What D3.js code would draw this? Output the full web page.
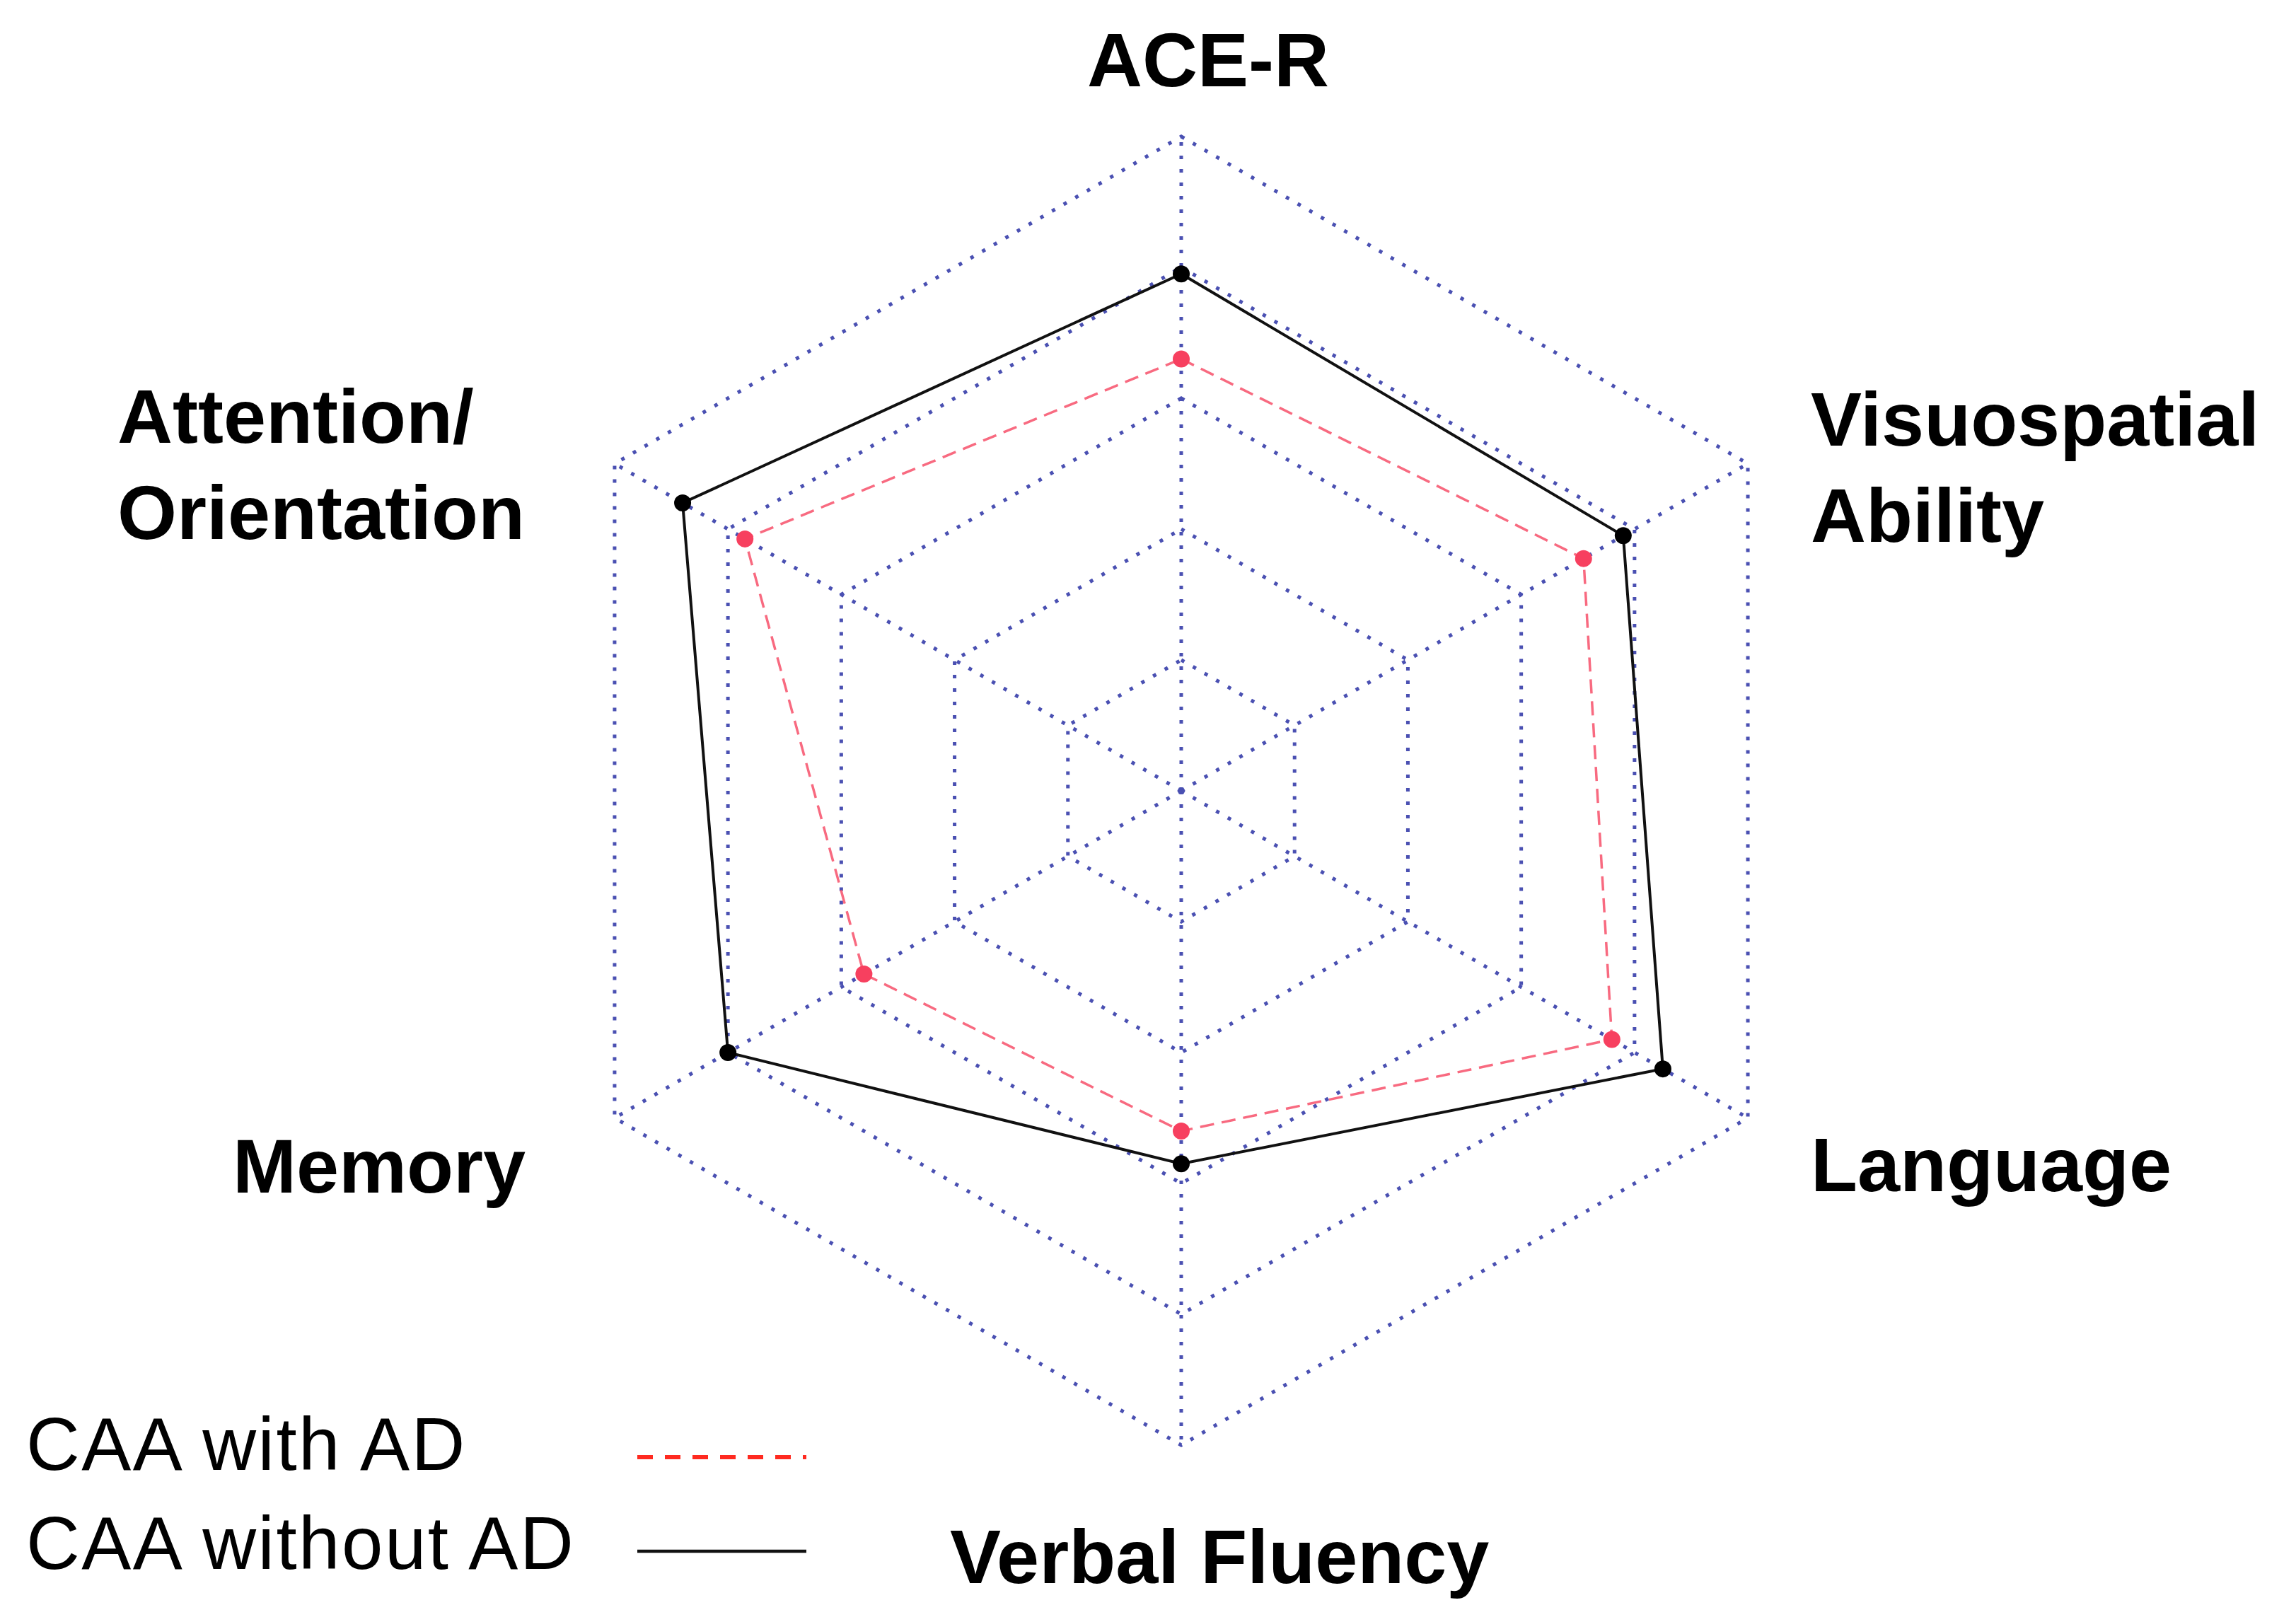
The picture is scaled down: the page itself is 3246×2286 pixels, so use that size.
<!DOCTYPE html>
<html>
<head>
<meta charset="utf-8">
<script src="https://cdn.jsdelivr.net/npm/d3@7"></script>
<style>
  html, body { margin: 0; padding: 0; background: #fff; }
  svg text { font-family: "Liberation Sans", Arial, sans-serif; }
</style>
</head>
<body>
<div id="chart"></div>
<script>
// axes, clockwise from the top
const axes = ["ACE-R", "Visuospatial Ability", "Language", "Verbal Fluency", "Memory", "Attention/Orientation"];
const withAD = [66, 71, 76, 52, 56, 77];
const withoutAD = [79, 78, 85, 57, 80, 88];
const levels = [20, 40, 60, 80, 100];
const seriesNames = ["CAA with AD", "CAA without AD"];

const width = 3246, height = 2286;
const cx = 1670, cy = 1118;

const svg = d3.select("#chart")
    .append("svg")
    .attr("width", width)
    .attr("height", height);

const r = d3.scaleLinear().domain([0, 100]).range([0, 925]);
const angle = d3.scaleLinear().domain([0, axes.length]).range([0, 2 * Math.PI]);

const g = svg.append("g").attr("transform", "translate(" + cx + "," + cy + ")");

const radial = d3.lineRadial()
    .angle(function (d, i) { return angle(i); })
    .radius(function (d) { return r(d); })
    .curve(d3.curveLinearClosed);

const gridColor = "#4a50b2";

// grid rings
g.append("g")
    .selectAll("path")
    .data(levels)
    .enter()
    .append("path")
    .attr("d", function (lv) { return radial(axes.map(function () { return lv; })); })
    .attr("fill", "none")
    .attr("stroke", gridColor)
    .attr("stroke-width", 5)
    .attr("stroke-dasharray", "5 14");

// spokes
g.append("g")
    .selectAll("line")
    .data(axes)
    .enter()
    .append("line")
    .attr("x1", 0)
    .attr("y1", 0)
    .attr("x2", function (d, i) { return r(100) * Math.sin(angle(i)); })
    .attr("y2", function (d, i) { return -r(100) * Math.cos(angle(i)); })
    .attr("stroke", gridColor)
    .attr("stroke-width", 5)
    .attr("stroke-dasharray", "5 14");

function point(v, i) {
    return [r(v) * Math.sin(angle(i)), -r(v) * Math.cos(angle(i))];
}

// CAA with AD
g.append("path")
    .attr("d", radial(withAD))
    .attr("fill", "none")
    .attr("stroke", "#f7506a")
    .attr("stroke-opacity", 0.85)
    .attr("stroke-width", 3.5)
    .attr("stroke-dasharray", "20 11");

g.append("g")
    .selectAll("circle")
    .data(withAD)
    .enter()
    .append("circle")
    .attr("cx", function (d, i) { return point(d, i)[0]; })
    .attr("cy", function (d, i) { return point(d, i)[1]; })
    .attr("r", 12)
    .attr("fill", "#f7405f");

// CAA without AD
g.append("path")
    .attr("d", radial(withoutAD))
    .attr("fill", "none")
    .attr("stroke", "#111")
    .attr("stroke-width", 4);

g.append("g")
    .selectAll("circle")
    .data(withoutAD)
    .enter()
    .append("circle")
    .attr("cx", function (d, i) { return point(d, i)[0]; })
    .attr("cy", function (d, i) { return point(d, i)[1]; })
    .attr("r", 12)
    .attr("fill", "#000");

// axis labels (placed by hand like the original)
const labelPos = [
    { x: 1708, y: 122, anchor: "middle", lines: ["ACE-R"] },
    { x: 2560, y: 630, anchor: "start", lines: ["Visuospatial", "Ability"] },
    { x: 2560, y: 1684, anchor: "start", lines: ["Language"] },
    { x: 1343, y: 2238, anchor: "start", lines: ["Verbal Fluency"] },
    { x: 329, y: 1686, anchor: "start", lines: ["Memory"] },
    { x: 166, y: 626, anchor: "start", lines: ["Attention/", "Orientation"] }
];

labelPos.forEach(function (p) {
    const t = svg.append("text")
        .attr("x", p.x)
        .attr("y", p.y)
        .attr("text-anchor", p.anchor)
        .attr("font-size", 108)
        .attr("font-weight", "bold")
        .attr("fill", "#000");
    p.lines.forEach(function (line, k) {
        t.append("tspan")
            .attr("x", p.x)
            .attr("dy", k === 0 ? 0 : 136)
            .text(line);
    });
});

// legend
const legend = svg.append("g");
legend.selectAll("text")
    .data(seriesNames)
    .enter()
    .append("text")
    .attr("x", 37)
    .attr("y", function (d, i) { return 2078 + i * 140; })
    .attr("font-size", 105)
    .attr("letter-spacing", 2.5)
    .attr("fill", "#000")
    .text(function (d) { return d; });

legend.append("line")
    .attr("x1", 901).attr("x2", 1140)
    .attr("y1", 2060).attr("y2", 2060)
    .attr("stroke", "#ff2a20")
    .attr("stroke-width", 6)
    .attr("stroke-dasharray", "22 17");

legend.append("line")
    .attr("x1", 901).attr("x2", 1140)
    .attr("y1", 2193).attr("y2", 2193)
    .attr("stroke", "#111")
    .attr("stroke-width", 4.5);
</script>
</body>
</html>
